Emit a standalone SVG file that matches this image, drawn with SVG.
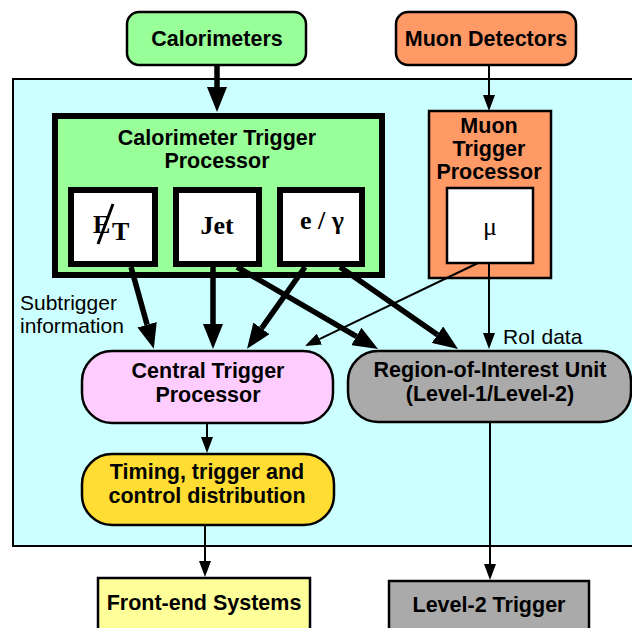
<svg xmlns="http://www.w3.org/2000/svg" width="632" height="628" viewBox="0 0 632 628">
<style>
.b{font-family:"Liberation Sans",Arial,sans-serif;font-weight:bold;font-size:21.5px;text-anchor:middle;fill:#000}
.n{font-family:"Liberation Sans",Arial,sans-serif;font-size:21px;fill:#000}
.s{font-family:"Liberation Serif","Times New Roman",serif;font-size:26px;fill:#000}
.thick{stroke:#000;stroke-width:5.5;fill:none}
.thin{stroke:#000;stroke-width:2;fill:none}
.box{stroke:#000;stroke-width:2.5}
</style>
<defs>
<marker id="ah" markerUnits="userSpaceOnUse" markerWidth="25" markerHeight="20" refX="0" refY="10" orient="auto"><path d="M0,0 L25,10 L0,20 z" fill="#000"/></marker>
<marker id="as" markerUnits="userSpaceOnUse" markerWidth="16" markerHeight="12" refX="0" refY="6" orient="auto"><path d="M0,0 L16,6 L0,12 z" fill="#000"/></marker>
</defs>
<rect id="bg" x="0" y="0" width="632" height="628" fill="#fff"/>
<rect id="level1" x="13" y="79" width="640" height="467" fill="#CCFFFF" stroke="#000" stroke-width="2"/>

<g id="calorimeters">
<rect class="box" x="127" y="12" width="179" height="53" rx="12" fill="#99FF99"/>
<text class="b" x="217" y="46">Calorimeters</text>
</g>
<g id="muon-detectors">
<rect class="box" x="396" y="12" width="180" height="53" rx="12" fill="#FF9966"/>
<text class="b" x="486" y="46">Muon Detectors</text>
</g>

<g id="calo-trigger-processor">
<rect x="55" y="116" width="327" height="159" fill="#99FF99" stroke="#000" stroke-width="6"/>
<text class="b" x="217" y="145">Calorimeter Trigger</text>
<text class="b" x="217" y="168">Processor</text>
</g>
<g id="etmiss">
<rect x="71" y="190" width="84" height="74" fill="#fff" stroke="#000" stroke-width="6"/>
<text class="s" x="93" y="233" font-weight="bold">E</text>
<text class="s" x="112" y="240" font-weight="bold">T</text>
<line x1="98" y1="244" x2="113" y2="204" stroke="#000" stroke-width="3"/>
</g>
<g id="jet">
<rect x="176" y="190" width="83" height="74" fill="#fff" stroke="#000" stroke-width="6"/>
<text class="s" x="217" y="234" font-weight="bold" text-anchor="middle">Jet</text>
</g>
<g id="egamma">
<rect x="280" y="190" width="82" height="74" fill="#fff" stroke="#000" stroke-width="6"/>
<text class="s" x="322" y="229" font-weight="bold" text-anchor="middle">e / γ</text>
</g>

<g id="muon-trigger-processor">
<rect class="box" x="429" y="111" width="122" height="167" fill="#FF9966"/>
<text class="b" x="489" y="133">Muon</text>
<text class="b" x="489" y="156">Trigger</text>
<text class="b" x="489" y="179">Processor</text>
</g>
<g id="mu">
<rect class="box" x="447" y="188" width="86" height="75" fill="#fff"/>
<text class="s" x="490" y="235" font-size="30" text-anchor="middle">μ</text>
</g>

<g id="central-trigger-processor">
<rect class="box" x="82" y="351" width="251" height="72" rx="30" fill="#FFCCFF"/>
<text class="b" x="208" y="378">Central Trigger</text>
<text class="b" x="208" y="402">Processor</text>
</g>
<g id="roi-unit">
<rect class="box" x="348" y="351" width="283" height="71" rx="30" fill="#AAAAAA"/>
<text class="b" x="490" y="377">Region-of-Interest Unit</text>
<text class="b" x="490" y="401">(Level-1/Level-2)</text>
</g>
<g id="ttc">
<rect class="box" x="82" y="454" width="252" height="71" rx="30" fill="#FFDD33"/>
<text class="b" x="207" y="479">Timing, trigger and</text>
<text class="b" x="207" y="503">control distribution</text>
</g>
<g id="front-end">
<rect class="box" x="98" y="578" width="212" height="70" fill="#FFFF99"/>
<text class="b" x="204" y="610">Front-end Systems</text>
</g>
<g id="level2">
<rect class="box" x="389" y="581" width="200" height="70" fill="#AAAAAA"/>
<text class="b" x="489" y="612">Level-2 Trigger</text>
</g>

<g id="labels">
<text class="n" x="20" y="310">Subtrigger</text>
<text class="n" x="20" y="333">information</text>
<text class="n" x="503" y="344">RoI data</text>
</g>

<g id="connectors">
<line class="thick" x1="217" y1="65" x2="217" y2="87" marker-end="url(#ah)"/>
<line class="thin" x1="489" y1="65" x2="489" y2="95" marker-end="url(#as)"/>
<line class="thick" x1="131" y1="267" x2="147.1" y2="324.7" marker-end="url(#ah)"/>
<line class="thick" x1="213" y1="267" x2="213" y2="324" marker-end="url(#ah)"/>
<line class="thick" x1="305" y1="267" x2="261.5" y2="328.4" marker-end="url(#ah)"/>
<line class="thick" x1="237" y1="267" x2="356.4" y2="336.4" marker-end="url(#ah)"/>
<line class="thick" x1="340" y1="267" x2="437.5" y2="334.7" marker-end="url(#ah)"/>
<line class="thin" x1="478" y1="263" x2="319.4" y2="339.1" marker-end="url(#as)"/>
<line class="thin" x1="489" y1="263" x2="489" y2="333" marker-end="url(#as)"/>
<line class="thin" x1="207" y1="423" x2="207" y2="437" marker-end="url(#as)"/>
<line class="thin" x1="205" y1="525" x2="205" y2="561" marker-end="url(#as)"/>
<line class="thin" x1="490" y1="422" x2="490" y2="564" marker-end="url(#as)"/>
</g>
</svg>
